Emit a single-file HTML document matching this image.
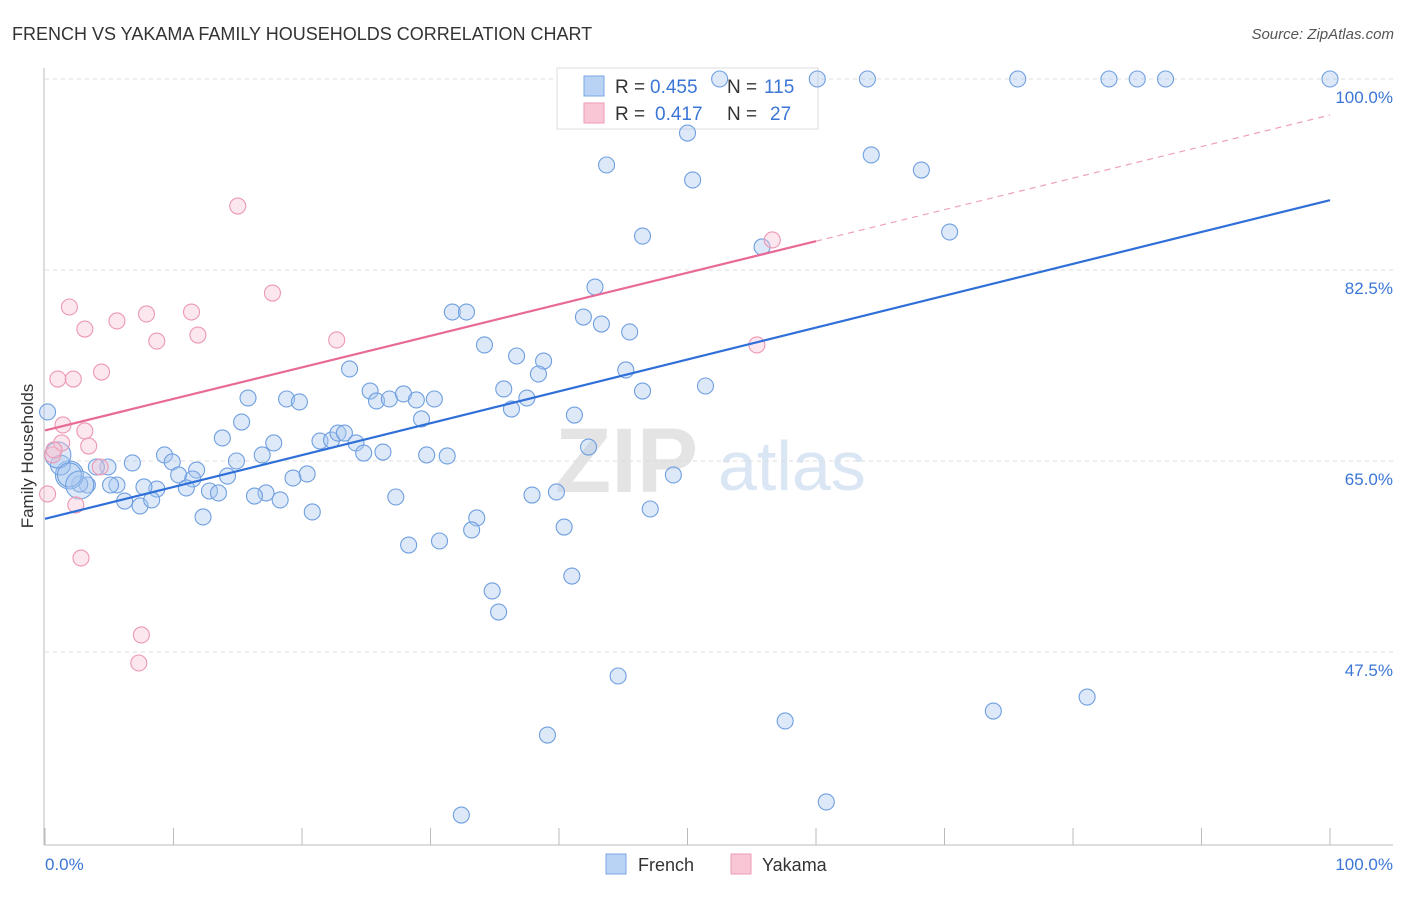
<!DOCTYPE html>
<html><head><meta charset="utf-8"><style>
body{margin:0;background:#fff;font-family:"Liberation Sans",sans-serif;}
svg text{font-family:"Liberation Sans",sans-serif;}
</style></head><body>
<svg id="c" width="1406" height="892">
<text x="12" y="40" font-size="18" fill="#333">FRENCH VS YAKAMA FAMILY HOUSEHOLDS CORRELATION CHART</text>
<text x="1394" y="39" font-size="15" fill="#555" font-style="italic" text-anchor="end">Source: ZipAtlas.com</text>
<text x="33" y="456" font-size="17" fill="#333" transform="rotate(-90 33 456)" text-anchor="middle">Family Households</text>
<g><text x="555" y="492" font-size="92" fill="#e4e4e4" font-family="Liberation Serif" font-weight="bold">ZIP</text><text x="718" y="490" font-size="70" fill="#dbe6f5">atlas</text></g>
<g id="grid"></g><g id="axes"></g>
<g>
<rect x="557" y="68" width="261" height="61" fill="#fff" stroke="#ddd"/>
<rect x="584" y="76" width="20" height="20" fill="#b9d3f5" stroke="#7aa7e6"/>
<rect x="584" y="103" width="20" height="20" fill="#f9c6d5" stroke="#ee9ab4"/>
<text x="615" y="93" font-size="19" fill="#333">R =</text><text x="650" y="93" font-size="19" fill="#3b76d6">0.455</text>
<text x="727" y="93" font-size="19" fill="#333">N =</text><text x="764" y="93" font-size="19" fill="#3b76d6">115</text>
<text x="615" y="120" font-size="19" fill="#333">R =</text><text x="655" y="120" font-size="19" fill="#3b76d6">0.417</text>
<text x="727" y="120" font-size="19" fill="#333">N =</text><text x="770" y="120" font-size="19" fill="#3b76d6">27</text>
</g>
<g id="marks"></g>
<g>
<rect x="606" y="854" width="20" height="20" fill="#b9d3f5" stroke="#7aa7e6"/><text x="638" y="871" font-size="18" fill="#333">French</text>
<rect x="731" y="854" width="20" height="20" fill="#f9c6d5" stroke="#ee9ab4"/><text x="762" y="871" font-size="18" fill="#333">Yakama</text>
</g>
</svg>
<script>
const yTicks=[100,82.5,65,47.5];
const xTickLabels=["0.0%","100.0%"];
const frenchX=[52.5,60.1,64.0,75.7,82.8,85.0,87.2,100,50.0,43.7,50.4,64.3,68.2,46.5,70.4,55.8,42.8,41.9,43.3,45.5,31.7,32.8,34.2,36.7,38.8,38.4,23.7,45.2,51.4,46.5,35.7,25.3,25.8,26.8,27.9,28.9,30.3,37.5,36.3,41.2,29.3,18.8,19.8,15.8,15.3,13.8,17.8,21.4,22.3,22.8,23.3,24.2,24.8,26.3,29.7,31.3,16.9,9.3,9.9,6.8,4.9,4.0,14.9,11.8,10.4,14.2,11.5,11.0,8.7,7.7,5.6,5.1,3.3,2.7,1.9,1.2,19.3,20.4,12.8,13.5,17.2,16.3,18.3,6.2,7.4,8.3,12.3,20.8,27.3,37.9,39.8,42.3,48.9,47.1,40.4,33.6,33.2,28.3,30.7,41.0,34.8,35.3,44.6,39.1,57.6,73.8,81.1,60.8,32.4,0.2,1.0,1.9,2.7];
const frenchY=[100,100,100,100,100,100,100,100,95.05,92.12,90.75,93.04,91.66,85.61,85.98,84.61,80.94,78.19,77.55,76.82,78.65,78.65,75.63,74.62,74.16,72.97,73.43,73.34,71.87,71.41,71.60,71.41,70.50,70.68,71.14,70.59,70.68,70.77,69.76,69.21,68.85,70.68,70.41,70.77,68.57,67.11,66.65,66.83,66.92,67.56,67.56,66.65,65.73,65.82,65.55,65.46,65.55,65.55,64.91,64.82,64.45,64.45,65.00,64.17,63.72,63.62,63.35,62.53,62.43,62.62,62.80,62.80,62.80,62.89,63.72,64.63,63.44,63.81,62.25,62.07,62.07,61.79,61.43,61.33,60.88,61.43,59.87,60.33,61.70,61.88,62.16,66.28,63.72,60.60,58.95,59.78,58.68,57.30,57.67,54.46,53.09,51.16,45.30,39.89,41.18,42.09,43.37,33.76,32.56,69.49,65.55,63.72,62.80];
const frenchSize=[8,8,8,8,8,8,8,8,8,8,8,8,8,8,8,8,8,8,8,8,8,8,8,8,8,8,8,8,8,8,8,8,8,8,8,8,8,8,8,8,8,8,8,8,8,8,8,8,8,8,8,8,8,8,8,8,8,8,8,8,8,8,8,8,8,8,8,8,8,8,8,8,8,8,14,10,8,8,8,8,8,8,8,8,8,8,8,8,8,8,8,8,8,8,8,8,8,8,8,8,8,8,8,8,8,8,8,8,8,8,13,12,14,12];
const yakamaX=[15.0,17.7,1.9,7.9,11.4,5.6,3.1,8.7,11.9,22.7,4.4,1.0,2.2,1.4,3.1,3.4,1.3,0.6,4.3,0.2,2.4,2.8,7.5,7.3,56.6,55.4,0.7];
const yakamaY=[88.36,80.39,79.11,78.47,78.65,77.83,77.09,75.99,76.54,76.09,73.15,72.51,72.51,68.30,67.75,66.37,66.65,65.55,64.45,61.98,60.97,56.11,49.06,46.49,85.25,75.63,66.01];
const frenchTrend=[59.7,88.9];
const yakamaTrend=[67.8,96.7];
const yakamaSolidEnd=60;
const NS="http://www.w3.org/2000/svg";
const X=v=>45+v*12.85, Y=v=>79+(100-v)*10.914;
function mk(t,a,p){const e=document.createElementNS(NS,t);for(const k in a)e.setAttribute(k,a[k]);p.appendChild(e);return e;}
const grid=document.getElementById('grid'),axes=document.getElementById('axes'),marks=document.getElementById('marks');
yTicks.forEach(t=>{const l=mk('line',{x1:45,x2:1393,y1:Y(t),y2:Y(t),stroke:'#ddd','stroke-dasharray':'4,4'},grid);


const tx=mk('text',{x:1393,y:Y(t)+24,'font-size':17,fill:'#3b76d6','text-anchor':'end'},axes);tx.textContent=t.toFixed(1)+'%';

});
mk('line',{x1:44,x2:44,y1:68,y2:845,stroke:'#bbb'},axes);
mk('line',{x1:44,x2:1393,y1:845,y2:845,stroke:'#bbb'},axes);
for(let i=0;i<=10;i++){mk('line',{x1:X(i*10),x2:X(i*10),y1:828,y2:845,stroke:'#bbb'},axes);}
[[0,'start',45],[1,'end',1393]].forEach(([i,a,x])=>{const t=mk('text',{x:x,y:870,'font-size':17,fill:'#3b76d6','text-anchor':a},axes);t.textContent=xTickLabels[i];

});
frenchX.forEach((v,i)=>{const c=mk('circle',{cx:X(v),cy:Y(frenchY[i]),r:frenchSize[i],fill:'rgba(170,200,240,0.4)',stroke:'#6f9fe0','stroke-width':1.1},marks);

});
yakamaX.forEach((v,i)=>{const c=mk('circle',{cx:X(v),cy:Y(yakamaY[i]),r:8,fill:'rgba(248,195,212,0.4)',stroke:'#ec98b3','stroke-width':1.1},marks);

});
const ft=mk('line',{x1:X(0),y1:Y(frenchTrend[0]),x2:X(100),y2:Y(frenchTrend[1]),stroke:'#2f6fd8','stroke-width':2.2},marks);


const ym=v=>yakamaTrend[0]+(yakamaTrend[1]-yakamaTrend[0])*v/100;
const yt=mk('line',{x1:X(0),y1:Y(ym(0)),x2:X(yakamaSolidEnd),y2:Y(ym(yakamaSolidEnd)),stroke:'#e86a96','stroke-width':2.2},marks);


const yd=mk('line',{x1:X(yakamaSolidEnd),y1:Y(ym(yakamaSolidEnd)),x2:X(100),y2:Y(ym(100)),stroke:'#eea0bb','stroke-width':1.2,'stroke-dasharray':'6,5'},marks);


</script>
</body></html>
